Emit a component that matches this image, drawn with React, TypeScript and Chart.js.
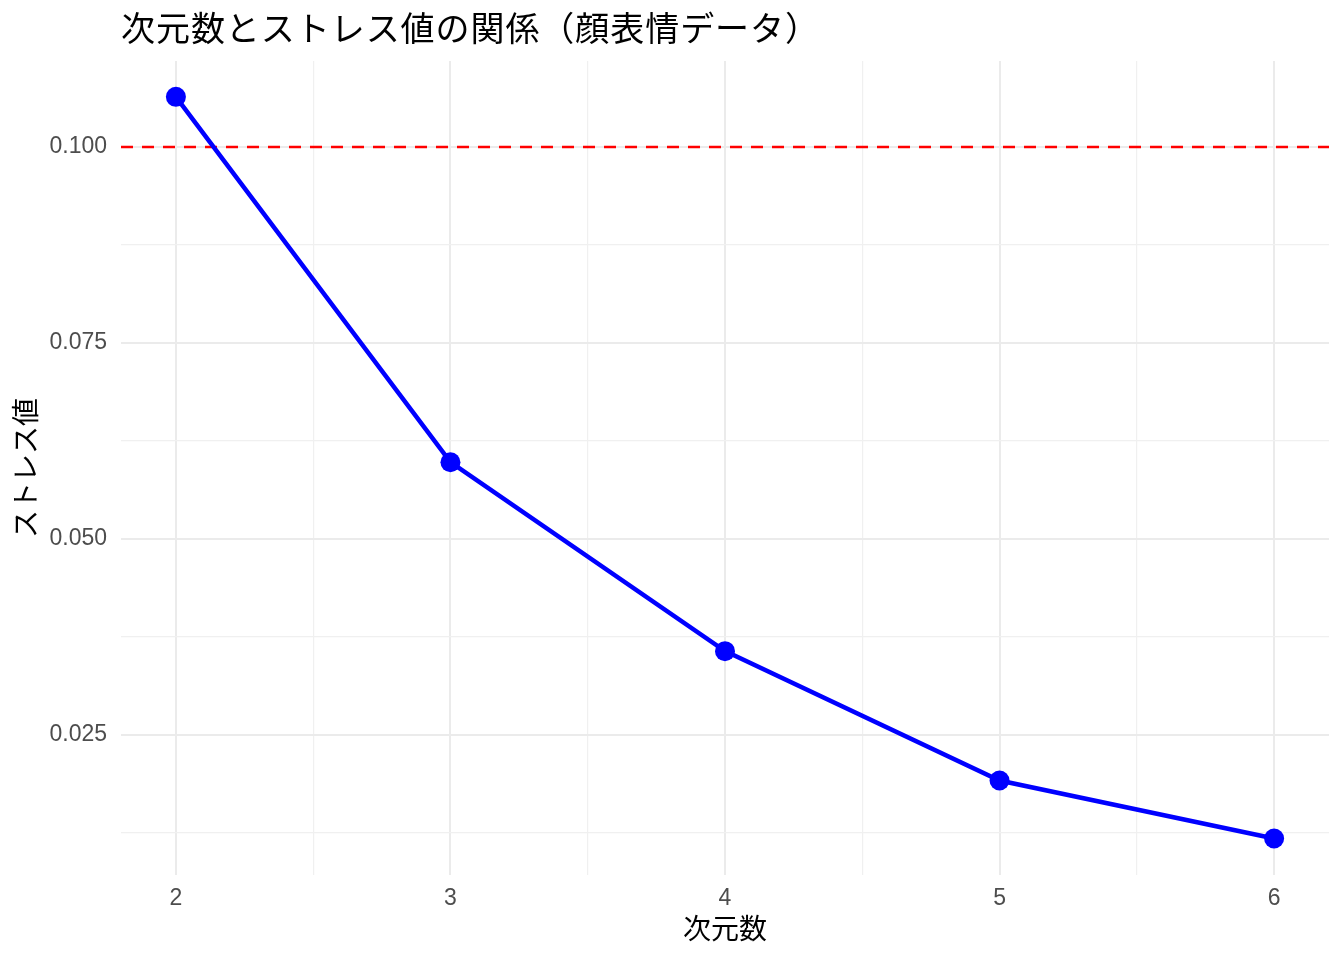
import React, { useEffect, useRef } from "react";
import { Chart, registerables } from "chart.js";

Chart.register(...registerables);

const chartTitle = "次元数とストレス値の関係（顔表情データ）";
const xAxisTitle = "次元数";
const yAxisTitle = "ストレス値";
const dimensions = [2, 3, 4, 5, 6];
const stressValues = [0.1064, 0.0598, 0.0357, 0.0192, 0.0118];
const thresholdValue = 0.1;
const xTickValues = [2, 2.5, 3, 3.5, 4, 4.5, 5, 5.5, 6];
const yTickValues = [0.0125, 0.025, 0.0375, 0.05, 0.0625, 0.075, 0.0875, 0.1];
const xRange = [1.8, 6.2];
const yRange = [0.00715, 0.11097];

const W = 1344;
const H = 960;
const AREA = { left: 121, right: 1329, top: 61, bottom: 875 };

const isMajor = (v: number, step: number) =>
  Math.abs(v / step - Math.round(v / step)) < 1e-6;

const titlePlugin = {
  id: "plotTitle",
  afterDraw(chart: any) {
    const ctx = chart.ctx;
    ctx.save();
    ctx.font = '34px "Noto Sans CJK JP"';
    ctx.fillStyle = "#000000";
    ctx.textAlign = "left";
    ctx.textBaseline = "middle";
    const chars = Array.from(chartTitle);
    const target = 698;
    const natural = ctx.measureText(chartTitle).width;
    const extra = chars.length > 1 ? Math.max(0, (target - natural) / (chars.length - 1)) : 0;
    let x = AREA.left;
    for (const c of chars) {
      ctx.fillText(c, x, 28);
      x += ctx.measureText(c).width + extra;
    }
    ctx.restore();
  },
};

export default function App() {
  const ref = useRef<HTMLCanvasElement | null>(null);

  useEffect(() => {
    if (!ref.current) return;
    const chart = new Chart(ref.current, {
      type: "line",
      data: {
        datasets: [
          {
            label: "threshold",
            data: [
              { x: xRange[0], y: thresholdValue },
              { x: xRange[1], y: thresholdValue },
            ],
            borderColor: "#FF0000",
            borderWidth: 2.5,
            borderDash: [12, 9],
            pointRadius: 0,
            fill: false,
            order: 2,
          },
          {
            label: "stress",
            data: dimensions.map((d, i) => ({ x: d, y: stressValues[i] })),
            borderColor: "#0000FF",
            backgroundColor: "#0000FF",
            borderWidth: 4.5,
            pointRadius: 10,
            pointBorderWidth: 0,
            pointBackgroundColor: "#0000FF",
            tension: 0,
            fill: false,
            order: 1,
          },
        ],
      },
      options: {
        responsive: false,
        animation: false,
        events: [],
        layout: {
          padding: { left: 0, top: AREA.top, right: W - AREA.right, bottom: 0 },
        },
        plugins: {
          legend: { display: false },
          tooltip: { enabled: false },
          title: { display: false },
        },
        scales: {
          x: {
            type: "linear",
            min: xRange[0],
            max: xRange[1],
            border: { display: false },
            afterBuildTicks: (scale: any) => {
              scale.ticks = xTickValues.map((v) => ({ value: v }));
            },
            afterFit: (scale: any) => {
              scale.height = H - AREA.bottom;
            },
            grid: {
              drawTicks: false,
              color: (c: any) => (isMajor(c.tick.value, 1) ? "#EBEBEB" : "#F0F0F0"),
              lineWidth: (c: any) => (isMajor(c.tick.value, 1) ? 2 : 1.2),
            },
            ticks: {
              autoSkip: false,
              maxRotation: 0,
              padding: 10,
              color: "#4D4D4D",
              font: { family: "Liberation Sans", size: 23 },
              callback: (v: any) => (isMajor(Number(v), 1) ? String(Math.round(Number(v))) : ""),
            },
            title: {
              display: true,
              text: xAxisTitle,
              color: "#000000",
              font: { family: "Noto Sans CJK JP", size: 28 },
              padding: { top: 0, bottom: 15 },
            },
          },
          y: {
            type: "linear",
            min: yRange[0],
            max: yRange[1],
            border: { display: false },
            afterBuildTicks: (scale: any) => {
              scale.ticks = yTickValues.map((v) => ({ value: v }));
            },
            afterFit: (scale: any) => {
              scale.width = AREA.left;
            },
            grid: {
              drawTicks: false,
              color: (c: any) => (isMajor(c.tick.value, 0.025) ? "#EBEBEB" : "#F0F0F0"),
              lineWidth: (c: any) => (isMajor(c.tick.value, 0.025) ? 2 : 1.2),
            },
            ticks: {
              autoSkip: false,
              padding: 14,
              color: "#4D4D4D",
              font: { family: "Liberation Sans", size: 23 },
              callback: (v: any) => (isMajor(Number(v), 0.025) ? Number(v).toFixed(3) : ""),
            },
            title: {
              display: true,
              text: yAxisTitle,
              color: "#000000",
              font: { family: "Noto Sans CJK JP", size: 28 },
              padding: { top: 9, bottom: 0 },
            },
          },
        },
      },
      plugins: [titlePlugin],
    });
    return () => chart.destroy();
  }, []);

  return (
    <div style={{ position: "fixed", left: 0, top: 0, width: W, height: H, background: "#FFFFFF" }}>
      <canvas ref={ref} width={W} height={H} style={{ width: W, height: H, display: "block" }} />
    </div>
  );
}
